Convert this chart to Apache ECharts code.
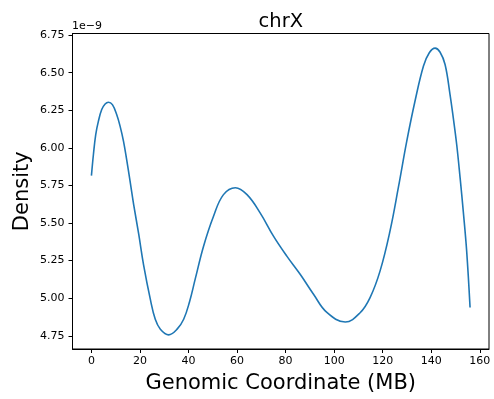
<!DOCTYPE html>
<html>
<head>
<meta charset="utf-8">
<script src="https://cdn.jsdelivr.net/npm/echarts@6/dist/echarts.min.js"></script>
<style>html,body{margin:0;padding:0;background:#fff;}#c{width:494px;height:399px;}</style>
</head>
<body>
<div id="c"></div>
<script>
// Genomic coordinate (MB)
const xs = [0, 0.82, 1.77, 2.88, 4.24, 5.64, 7.0, 8.64, 10.4, 11.8, 13.2, 14.5, 15.9, 17.4, 19.5, 21.5, 24.3, 26.3, 28.4, 31.8, 35.3, 38.0, 40.4, 42.8, 46.2, 50.3, 54.4, 59.3, 64.1, 69.5, 75.0, 80.5, 86.0, 91.5, 97.0, 104.6, 110.7, 114.8, 118.9, 123.0, 126.5, 129.9, 133.3, 136.8, 139.2, 141.6, 143.6, 145.7, 147.7, 149.1, 150.5, 151.9, 153.2, 154.6, 156.0];
// Density, in units of 1e-9
const ys = [5.815, 5.956, 6.089, 6.178, 6.255, 6.292, 6.304, 6.288, 6.222, 6.145, 6.045, 5.923, 5.780, 5.623, 5.424, 5.22, 4.99, 4.860, 4.794, 4.756, 4.794, 4.860, 4.975, 5.13, 5.346, 5.545, 5.689, 5.735, 5.689, 5.568, 5.413, 5.280, 5.159, 5.026, 4.905, 4.842, 4.903, 5.004, 5.180, 5.446, 5.740, 6.043, 6.31, 6.545, 6.633, 6.664, 6.638, 6.555, 6.36, 6.198, 6.021, 5.800, 5.578, 5.313, 4.938];
const xTicks = [0, 20, 40, 60, 80, 100, 120, 140, 160];
const yTicks = [4.75, 5.00, 5.25, 5.50, 5.75, 6.00, 6.25, 6.50, 6.75];
const titleText = 'chrX';
const xName = 'Genomic Coordinate (MB)';
const yName = 'Density';
const offsetText = '1e\u22129';

const FONT = 'DejaVu Sans';
const chart = echarts.init(document.getElementById('c'), null, {renderer: 'canvas'});
const axisLineStyle = {show: true, onZero: false, lineStyle: {color: '#000', width: 1}};
const tickStyle = {show: true, inside: false, length: 4, lineStyle: {color: '#000', width: 1}};
chart.setOption({
  animation: false,
  backgroundColor: '#fff',
  title: {
    text: titleText, left: 280.8, textAlign: 'center', top: 12, padding: 0,
    textStyle: {fontFamily: FONT, fontSize: 19.5, fontWeight: 'normal', color: '#000'}
  },
  graphic: [{
    type: 'text', left: 72, top: 21,
    style: {text: offsetText, font: '11px "DejaVu Sans"', fill: '#000'}
  }],
  grid: {left: 72.5, top: 33.5, right: 5, bottom: 49, show: true, borderColor: '#000', borderWidth: 1, containLabel: false},
  xAxis: {
    type: 'value', min: -7.8, max: 163.8,
    name: xName, nameLocation: 'middle', nameGap: 24, nameMoveOverlap: false,
    nameTextStyle: {fontFamily: FONT, fontSize: 21, color: '#000'},
    axisLine: axisLineStyle,
    splitLine: {show: false},
    axisTick: Object.assign({}, tickStyle, {customValues: xTicks}),
    axisLabel: {customValues: xTicks, fontFamily: FONT, fontSize: 11, color: '#000', margin: 7,
      formatter: v => String(v)}
  },
  yAxis: {
    type: 'value', min: 4.662, max: 6.761,
    name: yName, nameLocation: 'middle', nameGap: 39, nameRotate: 90, nameMoveOverlap: false,
    nameTextStyle: {fontFamily: FONT, fontSize: 21, color: '#000'},
    axisLine: axisLineStyle,
    splitLine: {show: false},
    axisTick: Object.assign({}, tickStyle, {customValues: yTicks}),
    axisLabel: {customValues: yTicks, fontFamily: FONT, fontSize: 11, color: '#000', margin: 8,
      formatter: v => v.toFixed(2)}
  },
  series: [{
    type: 'line',
    data: xs.map((x, i) => [x, ys[i]]),
    smooth: 0.4,
    showSymbol: false,
    lineStyle: {color: '#1f77b4', width: 1.6},
    itemStyle: {color: '#1f77b4'}
  }]
});
</script>
</body>
</html>
